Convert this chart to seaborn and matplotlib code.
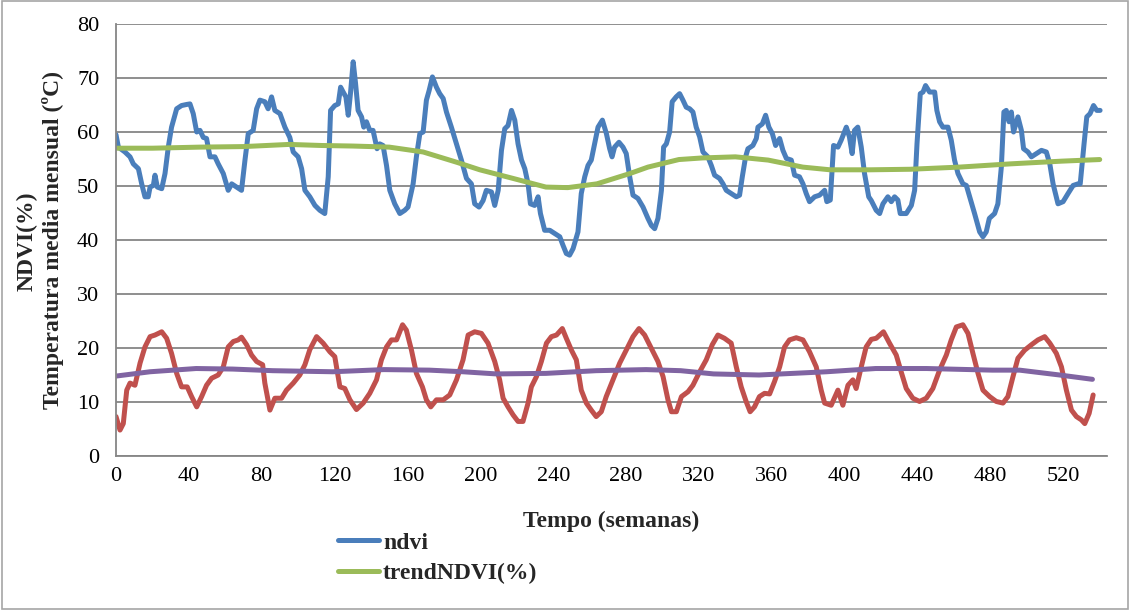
import matplotlib
matplotlib.use("Agg")
import matplotlib.pyplot as plt
import seaborn as sns
from matplotlib.patches import Rectangle

# weeks and values
ndvi_week = [0, 1.3, 4.9, 7.7, 9.5, 12.3, 14.1, 15.9, 17.7, 18.7, 20.5, 21.4, 22.7, 25.1, 26.9, 28.7,
             30.5, 33.3, 36, 38.8, 40.6, 42.4, 44.3, 46.1, 47.9, 49.7, 51.6, 54.3, 56.1, 58.9, 61.6,
             63.5, 66.2, 68.9, 70.8, 72.6, 75.3, 77.2, 79, 81.7, 83.5, 85.4, 87.2, 90, 92.7, 95.4,
             97.3, 100, 101.9, 103.7, 106.4, 109.2, 111.9, 114.6, 116.5, 117.8, 120.1, 122, 123.3,
             124.7, 126.2, 127.5, 128.7, 130.2, 131.5, 132.9, 134.8, 136, 137.5, 139.3, 141.1, 143.3,
             144.8, 146.6, 148.5, 150.3, 153, 155.8, 158.5, 160.3, 163.1, 164.9, 166.8, 168.6, 170.4,
             171.9, 173.7, 175.9, 177.7, 179.6, 181.4, 184.1, 186.9, 189.6, 192.4, 195.1, 196.9,
             199.3, 201.5, 203.3, 206.1, 207.9, 209.8, 211.6, 213.4, 215.2, 217.1, 218.9, 220.7,
             222.6, 224.4, 226.2, 227.5, 229.8, 231.7, 233, 235.3, 238.1, 240.8, 243.6, 245.4, 247.2,
             249, 250.9, 253.6, 255.4, 257.3, 259.1, 260.9, 262.7, 264.6, 267, 269.2, 271, 272.3,
             273.7, 276.1, 278.3, 280.1, 282, 283.8, 286.5, 289.3, 292, 293.9, 295.7, 297.5, 299.4,
             300.6, 302.1, 303.9, 305.3, 307.5, 309.4, 311.2, 313, 314.9, 316.7, 318.5, 320.4, 322.2,
             324.9, 326.8, 328.6, 331.3, 333.2, 335, 337.8, 340.5, 342.3, 343.8, 345.6, 346.9, 349.6,
             351.5, 352.4, 354.8, 356.6, 358.4, 360.3, 362.1, 364.3, 366.1, 368, 370.7, 372.5, 375.2,
             377.1, 378.9, 380.7, 383.5, 386.2, 389, 390.2, 392.1, 393.9, 396.3, 398.1, 400.9, 402.6,
             404.1, 405.4, 407.2, 409.1, 410.9, 413.2, 414.6, 417.3, 419.2, 421, 423.7, 425.6, 427.4,
             429.2, 430.5, 433.8, 436.6, 438.4, 439.7, 441.5, 443, 444.4, 446.6, 449.4, 450.6, 452.1,
             453.9, 456.7, 458.5, 460.3, 462.2, 464.9, 466.8, 468.6, 471.3, 474.1, 475.9, 477.7,
             479.4, 482.3, 484.1, 486, 487.4, 488.7, 490.2, 491.5, 492.7, 495.1, 497, 498.2, 500.6,
             502.5, 505.2, 508, 510.7, 512.6, 514.4, 517.1, 519.9, 522.6, 525.4, 528.1, 529.3, 531.4,
             532.9, 534.7, 536.6, 538.4, 540.2]
ndvi_vals = [59.5, 57.2, 56.3, 55.4, 54.1, 53.2, 50.4, 48, 48, 49.8, 50.1, 52, 49.8, 49.5, 52.3, 57.2,
             60.9, 64.3, 64.9, 65.1, 65.2, 63.4, 60, 60.3, 59, 58.8, 55.4, 55.4, 54.1, 52.3, 49.2,
             50.4, 49.8, 49.2, 54.8, 59.7, 60.3, 64.3, 65.9, 65.6, 64.3, 66.5, 64, 63.4, 60.9, 59,
             56.3, 55.4, 53.2, 49.2, 48, 46.4, 45.5, 44.9, 51.7, 64, 64.9, 65.2, 68.3,
             67.4, 66.5, 63.1, 67.1, 73, 69, 64, 62.8, 60.9, 61.9, 60.3, 60.3, 56.9,
             57.8, 57.5, 53.8, 49.2, 46.7, 44.9, 45.5, 46.1, 50.4, 55.4, 59.7, 60, 65.9,
             67.7, 70.2, 68.3, 67.1, 66.2, 63.7, 60.9, 57.8, 54.8, 51.4, 50.4, 46.7,
             46.1, 47.3, 49.2, 48.9, 46.4, 49.2, 56.6, 60.6, 61.2, 64, 62.2, 57.8,
             54.8, 53.2, 50.4, 46.7, 46.4, 48, 44.9, 41.8, 41.8, 41.2, 40.6, 39, 37.5,
             37.2, 38.4, 41.5, 48.6, 51.7, 53.8, 54.8, 57.8, 60.9, 62.2, 59.7, 56.9, 55.4,
             57.2, 58.1, 57.2, 56, 51.7, 48.3, 47.7, 46.1, 44, 42.7, 42.1, 44, 49.2,
             57.2, 57.8, 60, 65.6, 66.5, 67.1, 65.9, 64.6, 64.3, 63.7, 60.9, 59.1, 56.3,
             55.4, 53.8, 52, 51.4, 50.4, 49.2, 48.6, 48, 48.3, 51.7, 55.4, 56.9, 57.5,
             58.8, 60.9, 61.5, 63.1, 60.9, 59.7, 57.5, 58.8, 56.6, 55.1, 54.8, 52, 51.7,
             50.4, 48.6, 47.1, 48, 48.3, 49.2, 47.1, 47.4, 57.5, 57.2, 58.5, 60.9, 59.1,
             56, 60.3, 60.9, 57.2, 52.3, 48, 47.3, 45.5, 44.9, 46.7, 48, 47.1, 48,
             47.4, 44.9, 44.9, 46.4, 49.2, 57.8, 67.1, 67.4, 68.6, 67.4, 67.4, 64, 61.9,
             60.9, 60.9, 58.5, 54.8, 52.3, 50.4, 50.1, 48, 44.9, 41.5, 40.6, 41.5,
             44, 44.9, 46.7, 53.5, 63.7, 64, 61.9, 63.7, 60, 62.8, 60.3, 56.9, 56.3,
             55.4, 56, 56.6, 56.3, 54.1, 50.4, 46.7, 47.1, 48.6, 50.1, 50.4, 50.4, 57.8,
             62.8, 63.4, 64.9, 64, 64]

trend_week = [0, 20, 46, 70, 95, 113, 130, 150, 168.6, 187, 199.7, 218, 236, 248, 264, 282, 292,
              309, 322, 340, 358, 377, 392, 414, 436, 463, 491, 519, 540]
trend_vals = [57, 57, 57.2, 57.3, 57.7, 57.5, 57.4, 57.2, 56.3, 54.4, 53.0, 51.4, 49.8, 49.7, 50.4,
              52.3, 53.5, 54.9, 55.2, 55.4, 54.8, 53.5, 53, 53, 53.1, 53.5, 54.1, 54.6, 54.9]

temp_week = [0, 2.2, 4, 5.9, 7.7, 10.4, 13.2, 15.9, 18.7, 21.4, 25.1, 27.8, 30.5, 33.3, 36, 39.1,
             41.5, 44.3, 47, 49.7, 52.5, 56.1, 58.9, 61.6, 64.4, 67.1, 68.9, 71.7, 74.4, 77.2, 80.5,
             81.7, 84.5, 87.2, 90.9, 93.6, 97.3, 100.9, 103.7, 106.4, 110.1, 113.7, 117.4, 120.1,
             122.9, 125.6, 128.4, 132, 135.7, 139.3, 143, 145.7, 148.5, 151.2, 154, 157.3, 159.4,
             162.2, 164.9, 168.2, 170.4, 172.8, 175.9, 179.6, 183.2, 186.9, 190.5, 193.3, 196.9,
             200.6, 204.2, 207.9, 210.6, 212.5, 215.2, 218, 220.7, 223.4, 226.2, 228, 230.8, 233.5,
             236.3, 239, 241.8, 245, 247.2, 250, 252.7, 255.4, 258.2, 260.9, 263.6, 266.4, 269.1,
             272.8, 276.5, 280.1, 283.8, 287.1, 290.2, 293.9, 297.5, 300.3, 303, 304.9, 307.6, 310.4,
             314, 316.7, 320.4, 324, 327.3, 330.4, 334, 337.7, 340.5, 343.2, 345.9, 348.1, 350.5,
             353.2, 356, 358.8, 361.5, 364.3, 367, 369.7, 373.4, 377.1, 380.7, 384.4, 387.1, 389,
             392.6, 396.3, 399, 401.8, 404.5, 406.3, 409.1, 411.8, 414.6, 417.3, 421.3, 424.6, 428.3,
             431, 433.8, 437.4, 441.1, 444.8, 448.4, 452.1, 455.8, 458.5, 461.3, 464.9, 467.7, 470.4,
             473.2, 475.9, 479.6, 483.2, 486.9, 489.6, 492.4, 495.1, 498.8, 502.5, 506.1, 509.8,
             512.6, 516.2, 519, 521.7, 524.5, 527.2, 529.9, 531.8, 534.2, 536.4]
temp_vals = [7.3, 4.8, 6, 12.2, 13.5, 13.1, 17.2, 20.2, 22.1, 22.4, 23, 21.8, 19, 15.3, 12.8, 12.8,
             11, 9.1, 11, 13.1, 14.4, 15, 16.5, 20.2, 21.2, 21.5, 22, 20.6, 18.7, 17.5, 16.9,
             13.5, 8.5, 10.7, 10.7, 12.2, 13.5, 15, 16.9, 19.7, 22.1, 20.9, 19.3, 18.4,
             12.8, 12.5, 10.4, 8.6, 9.8, 11.6, 14.1, 17.8, 20.2, 21.5, 21.5, 24.3, 23.3,
             19.6, 15.3, 12.8, 10.4, 9.1, 10.4, 10.4, 11.3, 14.1, 17.8, 22.4, 23,
             22.7, 20.9, 17.5, 14.1, 10.7, 9.1, 7.6, 6.4, 6.4, 9.8, 12.8, 14.7, 17.5,
             20.9, 22.1, 22.4, 23.6, 21.8, 19.6, 17.8, 12.2, 9.8, 8.5, 7.3, 8.2, 11,
             14.1, 17.2, 19.6, 22.1, 23.6, 22.4, 19.9, 17.5, 14.7, 10.4, 8.2, 8.2, 11,
             11.9, 13.1, 15.6, 17.8, 20.6, 22.4, 21.8, 20.9, 16.5, 12.8, 10.1, 8.2, 9.1,
             11, 11.6, 11.5, 13.8, 16.5, 20.2, 21.5, 21.9, 21.5, 19.3, 16.5, 12.2, 9.8,
             9.4, 12.2, 9.4, 13.1, 14.1, 12.5, 16.5, 20.2, 21.6, 21.8, 23, 20.9, 18.7,
             15.6, 12.5, 10.7, 10.1, 10.7, 12.5, 15.9, 18.7, 21.5, 23.9, 24.3, 22.7, 19,
             15.3, 12.2, 11, 10.1, 9.8, 11, 14.7, 18.1, 19.6, 20.6, 21.5, 22.1,
             20.9, 19, 16.5, 12.2, 8.5, 7.3, 6.7, 6, 7.9, 11.3]

ttrend_week = [0, 18.7, 44, 64, 86, 119, 147, 172, 190.5, 208.8, 236, 263.6, 291, 310, 328, 353,
               390, 417, 445, 481, 496, 518, 536]
ttrend_vals = [14.8, 15.6, 16.2, 16.1, 15.8, 15.6, 16, 15.9, 15.6, 15.2, 15.3, 15.8, 16, 15.8, 15.2,
               15, 15.6, 16.2, 16.2, 15.9, 15.9, 15, 14.2]

x_ticks = list(range(0, 521, 40))
y_ticks = list(range(0, 81, 10))

sns.set_style("white")
plt.rcParams['font.family'] = ['Liberation Serif', 'DejaVu Serif']

fig = plt.figure(figsize=(11.3, 6.1), dpi=100)
ax = fig.add_axes([116 / 1130, 1 - 456 / 610, (1107 - 116) / 1130, (456 - 24) / 610])

grey = '#868686'
lw = 3.6
sns.lineplot(x=ndvi_week, y=ndvi_vals, ax=ax, color='#4A7EBB', linewidth=lw, label='ndvi')
sns.lineplot(x=trend_week, y=trend_vals, ax=ax, color='#9BBB59', linewidth=lw, label='trendNDVI(%)')
sns.lineplot(x=temp_week, y=temp_vals, ax=ax, color='#C0504D', linewidth=lw, legend=False)
sns.lineplot(x=ttrend_week, y=ttrend_vals, ax=ax, color='#8064A2', linewidth=lw, legend=False)

ax.set_xlim(0, 544)
ax.set_ylim(0, 80)
ax.set_xticks(x_ticks)
ax.set_yticks(y_ticks)
ax.yaxis.grid(True, color=grey, linewidth=1.3)
ax.set_axisbelow(True)
for s in ['top', 'right']:
    ax.spines[s].set_visible(False)
for s in ['left', 'bottom']:
    ax.spines[s].set_color(grey)
    ax.spines[s].set_linewidth(1.3)
ax.tick_params(axis='both', direction='out', color=grey, width=1.2, labelsize=16,
               labelcolor='black')
ax.tick_params(axis='x', length=5, pad=3)
ax.tick_params(axis='y', length=9, pad=3)
ax.set_xlabel('')
ax.set_ylabel('')

fig.text(611 / 1130, 1 - 521 / 610, 'Tempo (semanas)', ha='center', va='center',
         fontsize=17, fontweight='bold')
fig.text(27 / 1130, 1 - 241 / 610, 'NDVI(%)', rotation=90, ha='center', va='center',
         fontsize=17, fontweight='bold')
fig.text(53 / 1130, 1 - 240 / 610, 'Temperatura media mensual (ºC)', rotation=90,
         ha='center', va='center', fontsize=17, fontweight='bold')

handles, labels = ax.get_legend_handles_labels()
ax.legend_.remove()
fig.legend(handles, labels, loc='upper left', bbox_to_anchor=(338 / 1130, 1 - 532 / 610),
           frameon=False, borderpad=0, borderaxespad=0, handlelength=1.75, handletextpad=0.15,
           labelspacing=0.4, prop={'family': 'Liberation Serif', 'weight': 'bold', 'size': 17})

fig.patches.append(Rectangle((0.002, 0.002), 0.996, 0.996, transform=fig.transFigure,
                             fill=False, edgecolor='#a6a6a6', linewidth=1.2))

plt.savefig('out.png', dpi=100)
